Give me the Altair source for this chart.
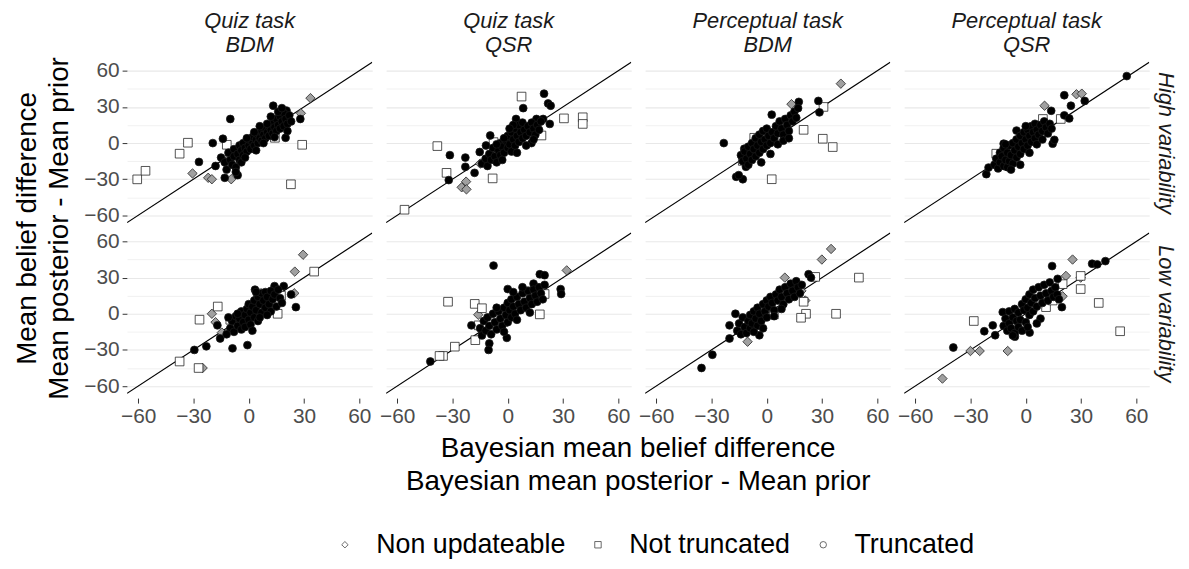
import altair as alt
import pandas as pd

# ---------------- data ----------------
COLUMNS = ["Quiz task|BDM", "Quiz task|QSR", "Perceptual task|BDM", "Perceptual task|QSR"]
ROWS = ["High variability", "Low variability"]
TYPES = ["Non updateable", "Not truncated", "Truncated"]
X_TICKS = [-60, -30, 0, 30, 60]
Y_GRID = [-60, -45, -30, -15, 0, 15, 30, 45, 60]
X_TITLE = ["Bayesian mean belief difference", "Bayesian mean posterior - Mean prior"]
Y_TITLE = ["Mean belief difference", "Mean posterior - Mean prior"]

# Quiz task BDM, high variability
QB_HI_NONUPD = [(33.5, 37.3), (28.3, 24.7), (21, 24), (-30.5, -25.2), (-22, -28.8), (-20, -30), (-9.5, -30)]
QB_HI_NOTTR = [(-60.5, -30.1), (-56, -23), (-37.5, -8.8), (-33, 0.3), (-11.9, -1.4), (14.2, 4.4), (29, -1.4),
               (22.9, -34.2), (3.4, 3.6), (-10, -9)]
QB_HI_TRUNC = [(-10, 20), (-14, 3.6), (-19.5, 0), (-27, -15.6), (-18, -19), (-13, -28.8), (-6, -26.6), (13.3, 31),
               (28, 20), (20, 4.4), (20.5, 27), (-15, -12), (-13, -16), (-12, -22), (-11, -8), (-10, -14), (-9, -18),
               (-8, -5), (-8, -11), (-7, -20), (-6, -9), (-5, -2), (-5, -14), (-4, -6), (-3, -10), (-3, 0), (-2, -4),
               (-1, -7), (0, -2), (0, 3), (1, -5), (2, 1), (2, 5), (3, -2), (4, 3), (5, 7), (5, 0), (6, 4), (7, 10),
               (7, 2), (8, 7), (9, 12), (9, 4), (10, 9), (11, 14), (11, 6), (12, 11), (13, 17), (13, 8), (14, 13),
               (15, 20), (15, 10), (16, 15), (17, 22), (17, 12), (18, 18), (19, 25), (19, 14), (20, 20), (21, 16),
               (22, 23), (21, 10), (23, 18), (16, 26), (18, 29), (12, 22), (10, 16), (6, 14), (3, 9), (-1, 4),
               (-4, -16), (-7, -24), (-2, -12), (4, -6), (8, 0), (14, 5)]

# Quiz task BDM, low variability
QB_LO_NONUPD = [(29.5, 49), (25, 35), (24.7, 17), (-20, 0), (-25, -45), (-14.6, -15.6), (-18, -7)]
QB_LO_NOTTR = [(35.5, 35), (4.9, 17), (10.3, 4.9), (15.7, 0), (17.5, 15), (-16.8, 6), (-26.7, -4.9),
               (-37.5, -39.6), (-27.2, -45), (-10, -5), (6, 1)]
QB_LO_TRUNC = [(-29.5, -30), (-23, -27), (-8.8, -28.7), (-0.7, -26), (25.6, 5.5), (-17, -9.6), (-15.5, -20.5),
               (14, 23), (19, 23), (23, 16), (3.4, 20), (-10, -12), (-9, -6), (-8, -15), (-7, -2), (-6, -10),
               (-5, -4), (-4, -13), (-4, 2), (-3, -7), (-2, -1), (-2, -11), (-1, 4), (0, -5), (0, 8), (1, 1),
               (1, -9), (2, 6), (3, -3), (3, 11), (4, 3), (5, -6), (5, 14), (6, 8), (7, 1), (7, 17), (8, 11), (9, 5),
               (9, 18), (10, 14), (11, 8), (12, 19), (12, 2), (13, 12), (14, 16), (15, 6), (16, 20), (17, 13),
               (18, 9), (-11, -3), (-12, -17), (-6, 0), (2, -14), (6, -3), (10, -1), (4, 18)]

# Quiz task QSR, high variability
QS_HI_NONUPD = [(-22.6, -32), (-25, -36.7), (-22.4, -38.4), (-15, -17)]
QS_HI_NOTTR = [(7.5, 38.6), (30.5, 20.5), (40.7, 21.4), (40.7, 15.9), (18.3, 6.3), (-38.2, -2.5), (-33.2, -24.7),
               (-8.2, -29.3), (-56, -55.3), (-7.7, 0.8), (2, 6), (15.6, 11.8)]
QS_HI_TRUNC = [(19.7, 41), (21.9, 32.9), (23.3, 31), (8.4, 29), (-31.4, -10), (-23, -12), (-23, -19.7),
               (-32, -30.7), (-18, -24.7), (-15.2, -7.4), (-11.8, -2), (-9.5, 6.3), (15.6, 20), (19.2, 20),
               (22.8, 15.9), (4.5, 20), (12.9, 0), (-14, -17), (-12, -13), (-11, -19), (-10, -9), (-9, -14),
               (-8, -4), (-7, -11), (-6, -16), (-5, -6), (-4, 0), (-4, -10), (-3, -3), (-2, -8), (-1, 2), (0, -4),
               (0, 6), (1, -1), (2, 9), (2, -7), (3, 3), (4, -2), (4, 12), (5, 6), (6, 1), (6, 15), (7, 9), (8, 4),
               (8, 17), (9, 11), (10, 6), (11, 14), (12, 9), (13, 17), (14, 12), (15, 7), (16, 15), (17, 11),
               (18, 18), (3, 15), (1, 12), (-2, 4), (-6, -1), (10, -2), (14, 3), (5, -8), (-3, -14)]

# Quiz task QSR, low variability
QS_LO_NONUPD = [(32, 36), (-16, -0.8)]
QS_LO_NOTTR = [(-32.4, 10), (-17.9, 8.2), (-14, 4.6), (-28.7, -27.3), (-35.1, -35), (-37, -35), (17.4, -0.5),
               (9.9, 18.6), (20, 16.4), (-17.6, -21.9), (-15.8, -9.6), (-2.3, -6.8)]
QS_LO_TRUNC = [(-7.7, 40), (-42, -39.6), (-10, -24.6), (-10.4, -30), (-0.5, -20), (-19.7, -9.6), (17.4, 32.8),
               (20, 32), (28.7, 20.5), (29, 16.4), (14, 25), (0, 20.5), (-15, -12), (-14, -18), (-13, -6),
               (-12, -14), (-11, -3), (-10, -10), (-9, -17), (-8, 0), (-7, -7), (-6, -13), (-5, 2), (-4, -4),
               (-3, -10), (-2, 5), (-1, -1), (0, -7), (0, 9), (1, 3), (2, -3), (2, 12), (3, 6), (4, 0), (5, 14),
               (6, 8), (7, 3), (8, 17), (9, 10), (10, 5), (11, 19), (12, 13), (13, 8), (14, 20), (15, 15), (16, 10),
               (17, 22), (18, 17), (19, 12), (20, 24), (5, -5), (-2, -15), (12, 1), (8, 22), (-6, 5), (3, 18)]

# Perceptual task BDM, high variability
PB_HI_NONUPD = [(40.2, 49.3), (13.4, 32.3)]
PB_HI_NOTTR = [(30.8, 30), (20, 11), (30.4, 3.6), (35.8, -3.3), (2.7, -30), (-6.8, 4.4), (8, 6.8), (-13, -14.8)]
PB_HI_TRUNC = [(-23.3, 0), (17.4, 34.2), (28, 35), (28.6, 25.5), (2.7, 23.6), (-16.6, -28), (-13, -30),
               (-15.2, -26.6), (-11.3, -19.7), (-12.2, -4.7), (-14, -10), (-13, -15), (-12, -7), (-11, -13),
               (-10, -3), (-10, -18), (-9, -9), (-8, -14), (-8, 0), (-7, -5), (-6, -11), (-6, 4), (-5, -2),
               (-4, -8), (-4, 7), (-3, 1), (-2, -5), (-2, 10), (-1, 3), (0, -2), (0, 12), (1, 6), (2, 0), (3, 9),
               (4, 4), (5, 14), (6, 8), (7, 18), (8, 12), (9, 7), (10, 20), (11, 15), (12, 10), (13, 23), (14, 18),
               (15, 26), (16, 21), (17, 29), (2, -9), (-3, -16), (6, -1), (9, 2), (12, 4)]

# Perceptual task BDM, low variability
PB_LO_NONUPD = [(34.9, 53.8), (29.9, 45), (9.8, 30), (20.9, 11), (-10.4, -23.2), (-14.8, -15.6), (18.8, 19)]
PB_LO_NOTTR = [(50, 30), (37.6, 0), (21.3, 0), (18.6, -3.3), (20, 10), (3.9, -0.5), (26.3, 30.6)]
PB_LO_TRUNC = [(-35.4, -45), (-29.5, -34), (-20.2, -20.5), (-20.2, -9.6), (-17, 0), (22.7, 32.8), (24, 30),
               (13.8, 23), (-4, -17.8), (-16, -14), (-15, -8), (-14, -17), (-13, -3), (-12, -11), (-11, -16),
               (-10, -6), (-9, -1), (-9, -12), (-8, -8), (-7, 2), (-6, -4), (-5, -10), (-5, 5), (-4, 0), (-3, -6),
               (-2, 8), (-1, 2), (0, -3), (0, 11), (1, 6), (2, 14), (3, 9), (4, 3), (5, 16), (6, 11), (7, 20),
               (8, 14), (9, 8), (10, 22), (11, 17), (12, 12), (13, 25), (14, 19), (15, 14), (16, 27), (17, 22),
               (18, 17), (19, 24), (-2, -12), (4, -2), (8, 4), (-7, -15)]

# Perceptual task QSR, high variability
PS_HI_NONUPD = [(27.5, 40.5), (30.4, 41), (10.2, 31)]
PS_HI_NOTTR = [(-16, -8.8), (19, 20), (9.3, 20)]
PS_HI_TRUNC = [(54.8, 55.6), (20.9, 39.7), (32, 35), (24.5, 31), (13.8, 26.8), (20.9, 23), (23.6, 20.5),
               (-5, 10.4), (-21.4, -25.8), (-20.2, -20.3), (-12, -0.5), (14.6, -0.5), (15.5, 2.7), (-17, -18),
               (-16, -13), (-15, -21), (-14, -8), (-14, -16), (-13, -11), (-12, -19), (-12, -4), (-11, -14),
               (-10, -8), (-10, -20), (-9, -2), (-9, -15), (-8, -10), (-7, -17), (-7, 0), (-6, -6), (-5, -12),
               (-5, 3), (-4, -3), (-3, -9), (-3, 6), (-2, 0), (-1, -5), (-1, 9), (0, 3), (1, -2), (1, 11), (2, 6),
               (3, 1), (3, 14), (4, 9), (5, 4), (5, 16), (6, 11), (7, 7), (8, 15), (9, 10), (10, 18), (11, 13),
               (12, 8), (13, 16), (14, 12), (-8, -22), (-11, -1), (2, -8), (6, -1), (9, 3), (-3, -18), (0, 14)]

# Perceptual task QSR, low variability
PS_LO_NONUPD = [(25.4, 45), (29.8, 30), (21.8, 31.4), (20, 14.5), (-30, -30.9), (-25, -30.9), (-9.8, -30.9),
                (-45.2, -53.8)]
PS_LO_NOTTR = [(51.2, -14.5), (39.6, 9), (29.8, 20.5), (29.8, 31.4), (-28.2, -6), (-5, 0), (3.6, 5.5),
               (11, 5.5), (20, 24.6), (14.6, 11)]
PS_LO_TRUNC = [(-39.3, -28), (36, 41.5), (38.8, 41), (43.2, 43.7), (14.3, 39.6), (-22.5, -14.5), (-17.9, -9.6),
               (-16.6, -17.8), (-5.9, -19), (2.1, -15.6), (19.6, 5.5), (17.3, 29), (-12.5, 1.4), (-12, -10),
               (-11, -4), (-10, -14), (-9, 2), (-9, -8), (-8, -12), (-7, -3), (-6, -16), (-6, 4), (-5, -6), (-4, 1),
               (-4, -11), (-3, -5), (-2, 8), (-2, -14), (-1, 3), (0, -7), (0, 12), (1, 5), (2, -1), (2, 16), (3, 9),
               (4, 2), (4, 20), (5, 13), (6, 6), (7, 22), (8, 15), (9, 9), (10, 24), (11, 17), (12, 11), (13, 26),
               (14, 19), (15, 14), (16, 22), (17, 16), (18, 12), (-7, -18), (1, -11), (8, -4), (6, -8)]

# identity line (y = x) end points, in data units
DIAG = [-66, 67]

PANELS = [
    (COLUMNS[0], ROWS[0], QB_HI_NONUPD, QB_HI_NOTTR, QB_HI_TRUNC),
    (COLUMNS[0], ROWS[1], QB_LO_NONUPD, QB_LO_NOTTR, QB_LO_TRUNC),
    (COLUMNS[1], ROWS[0], QS_HI_NONUPD, QS_HI_NOTTR, QS_HI_TRUNC),
    (COLUMNS[1], ROWS[1], QS_LO_NONUPD, QS_LO_NOTTR, QS_LO_TRUNC),
    (COLUMNS[2], ROWS[0], PB_HI_NONUPD, PB_HI_NOTTR, PB_HI_TRUNC),
    (COLUMNS[2], ROWS[1], PB_LO_NONUPD, PB_LO_NOTTR, PB_LO_TRUNC),
    (COLUMNS[3], ROWS[0], PS_HI_NONUPD, PS_HI_NOTTR, PS_HI_TRUNC),
    (COLUMNS[3], ROWS[1], PS_LO_NONUPD, PS_LO_NOTTR, PS_LO_TRUNC),
]

records = []
for col, row, nonupd, nottr, trunc in PANELS:
    for v in DIAG:
        records.append({"panel": col, "var": row, "x": v, "y": v, "type": "line", "fillcat": "line"})
    for t, pts in zip(TYPES, (nonupd, nottr, trunc)):
        for x, y in pts:
            records.append({"panel": col, "var": row, "x": x, "y": y, "type": t, "fillcat": t + " "})
df = pd.DataFrame(records)

FONT = "Liberation Sans"

x_enc = alt.X("x:Q", scale=alt.Scale(domain=[-66, 67], nice=False, zero=False),
              axis=alt.Axis(values=X_TICKS, grid=False, title=None))
y_enc = alt.Y("y:Q", scale=alt.Scale(domain=[-70, 70], nice=False, zero=False),
              axis=alt.Axis(values=Y_GRID, title=None,
                            labelExpr="datum.value % 30 == 0 ? datum.label : ''",
                            tickOpacity={"condition": {"test": "datum.value % 30 == 0", "value": 1}, "value": 0},
                            gridWidth={"condition": {"test": "datum.value % 30 == 0", "value": 1.1}, "value": 0.6}))

line = alt.Chart().mark_line(color="black", strokeWidth=1.2, clip=True).encode(
    x=x_enc, y=y_enc
).transform_filter("datum.type == 'line'")

points = alt.Chart().mark_point(filled=True, opacity=1, stroke="#1a1a1a", strokeWidth=0.75).encode(
    x=x_enc, y=y_enc,
    shape=alt.Shape("type:N", scale=alt.Scale(domain=TYPES, range=["diamond", "square", "circle"]),
                    legend=alt.Legend(title=None, orient="none", direction="horizontal",
                                      legendX=206, legendY=476,
                                      symbolFillColor="white", symbolStrokeColor="#444444",
                                      symbolStrokeWidth=0.8, symbolSize=42, labelLimit=400,
                                      labelFontSize=27, labelFont=FONT, labelColor="#000000",
                                      labelOffset=18, columnPadding=19)),
    fill=alt.Fill("fillcat:N", scale=alt.Scale(domain=[t + " " for t in TYPES],
                                               range=["#a0a0a0", "#ffffff", "#000000"]), legend=None),
    size=alt.Size("fillcat:N", scale=alt.Scale(domain=[t + " " for t in TYPES], range=[90, 62, 62]),
                  legend=None),
).transform_filter("datum.type != 'line'")

layered = alt.layer(line, points).properties(width=247, height=170)

chart = layered.facet(
    data=df,
    column=alt.Column("panel:N", sort=COLUMNS,
                      header=alt.Header(title=X_TITLE, titleOrient="bottom", labelOrient="top",
                                        titleFont=FONT, titleFontSize=28, titleFontWeight="normal",
                                        titleColor="#000000", titleLineHeight=34, titlePadding=-2,
                                        labelExpr="split(datum.value, '|')",
                                        labelFontStyle="italic", labelFontSize=22, labelFont=FONT,
                                        labelColor="#1a1a1a", labelLineHeight=24, labelPadding=2)),
    row=alt.Row("var:N", sort=ROWS,
                header=alt.Header(title=Y_TITLE, titleOrient="left", labelOrient="right",
                                  titleFont=FONT, titleFontSize=28, titleFontWeight="normal",
                                  titleColor="#000000", titleLineHeight=32, titlePadding=0,
                                  labelAngle=90, labelFontStyle="italic", labelFontSize=22, labelFont=FONT,
                                  labelColor="#1a1a1a", labelPadding=5)),
    spacing={"row": 2, "column": 14},
).properties(
    padding={"left": 5, "top": 0, "right": 4, "bottom": 0}
).configure_view(stroke=None).configure_axis(
    labelFont=FONT, labelFontSize=21, labelColor="#4d4d4d", tickColor="#333333", tickSize=5,
    domain=False, gridColor="#e8e8e8", labelPadding=3,
)

chart.save("out.html", embed_options={"renderer": "svg", "actions": False})
